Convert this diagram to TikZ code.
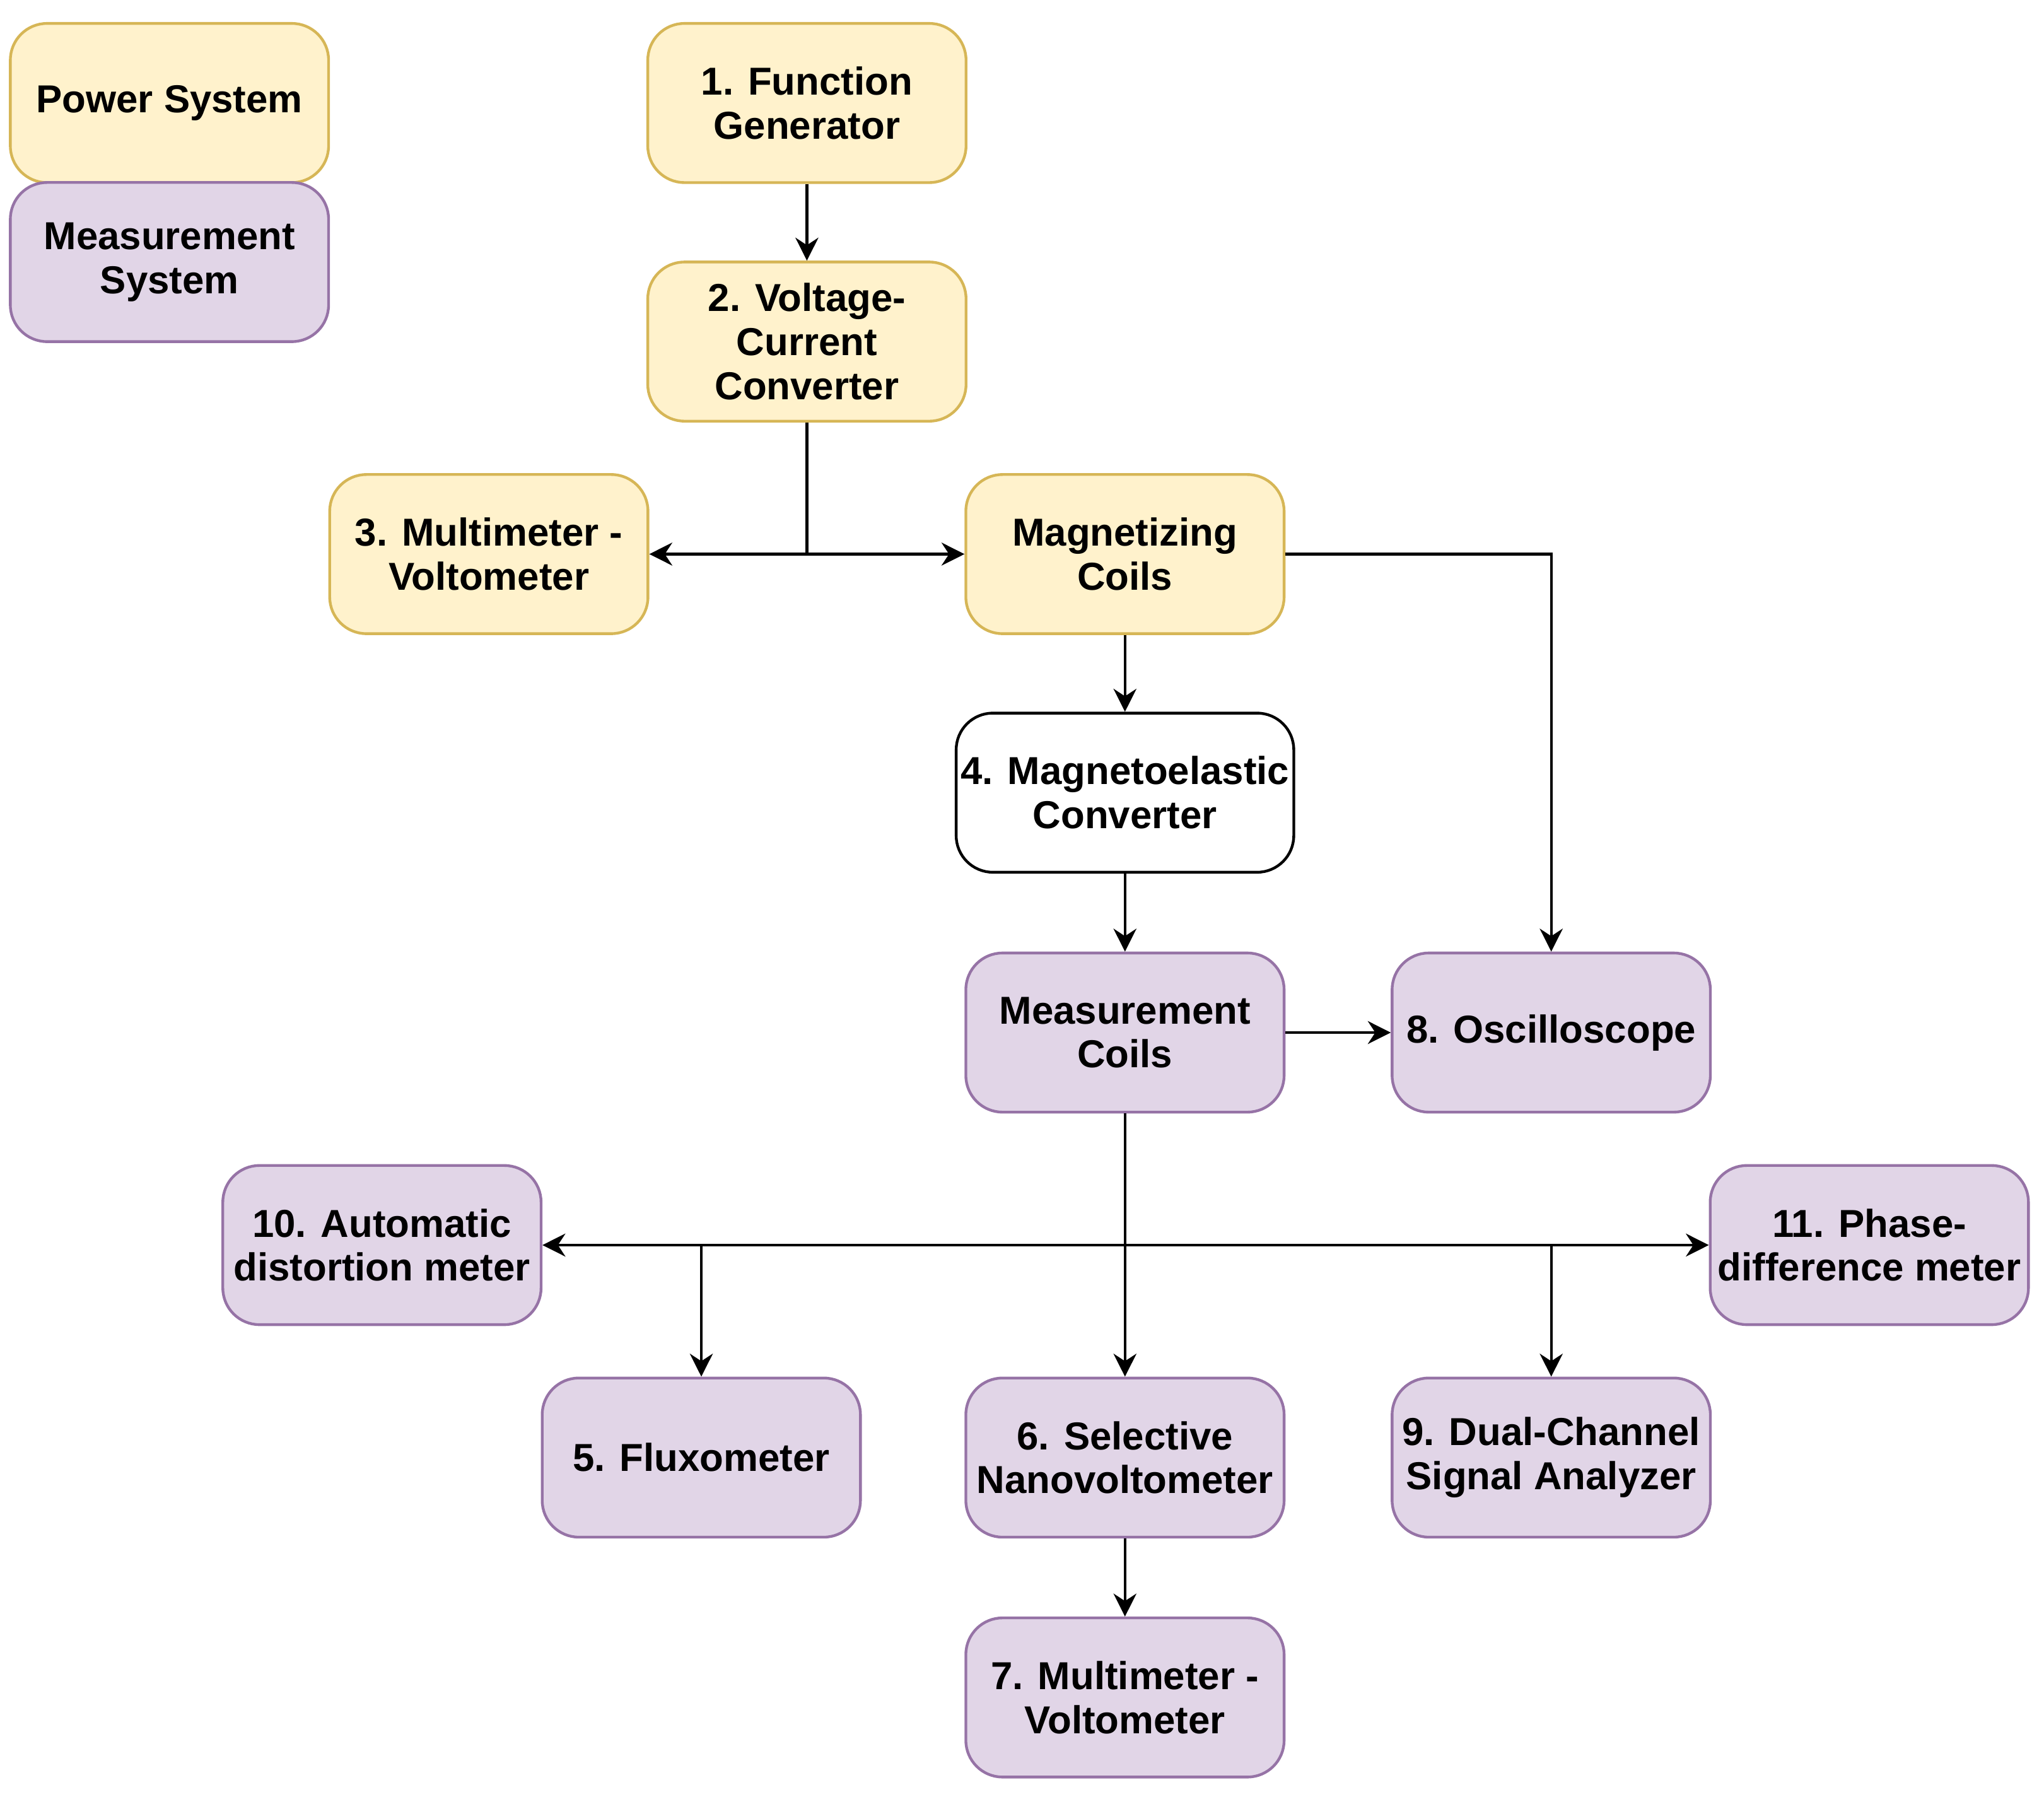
\documentclass[tikz,border=0pt]{standalone}
\usepackage{fontspec}
\setmainfont{Liberation Sans}
\usetikzlibrary{arrows.meta}
\definecolor{powfill}{HTML}{FFF2CC}
\definecolor{powline}{HTML}{D6B656}
\definecolor{mesfill}{HTML}{E1D5E7}
\definecolor{mesline}{HTML}{9673A6}
\begin{document}
\begin{tikzpicture}[x=0.01cm,y=-0.01cm,
  box/.style={draw,rounded corners=8pt,minimum width=2.44cm,minimum height=1.22cm,
    align=center,font=\fontsize{8.5}{9.6}\selectfont\bfseries,line width=0.6pt,inner sep=1pt},
  pow/.style={box,fill=powfill,draw=powline},
  mes/.style={box,fill=mesfill,draw=mesline},
  arr/.style={-{Stealth[length=5pt,width=5pt]},line width=0.6pt}]
\useasboundingbox (0,0) rectangle (1568,1378);

\node[pow] (ps) at (130,79) {Power System};
\node[mes] (ms) at (130,201) {Measurement\\System};

\node[pow] (fg) at (619,79) {1. Function\\Generator};
\node[pow] (vcc) at (619,262) {2. Voltage-\\Current\\Converter};
\node[pow] (mm3) at (375,425) {3. Multimeter -\\Voltometer};
\node[pow] (mag) at (863,425) {Magnetizing\\Coils};
\node[box] (mel) at (863,608) {4. Magnetoelastic\\Converter};
\node[mes] (mc) at (863,792) {Measurement\\Coils};
\node[mes] (osc) at (1190,792) {8. Oscilloscope};
\node[mes] (dist) at (293,955) {10. Automatic\\distortion meter};
\node[mes] (phase) at (1434,955) {11. Phase-\\difference meter};
\node[mes] (flux) at (538,1118) {5. Fluxometer};
\node[mes] (snv) at (863,1118) {6. Selective\\Nanovoltometer};
\node[mes] (dual) at (1190,1118) {9. Dual-Channel\\Signal Analyzer};
\node[mes] (mm7) at (863,1302) {7. Multimeter -\\Voltometer};

\coordinate (j1) at (619,425);
\coordinate (j2) at (863,955);
\coordinate (jf) at (538,955);
\coordinate (jd) at (1190,955);

\draw[arr] (fg) -- (vcc);
\draw[line width=0.6pt] (vcc) -- (j1);
\draw[arr] (j1) -- (mm3);
\draw[arr] (j1) -- (mag);
\draw[arr] (mag.east) -| (osc.north);
\draw[arr] (mag) -- (mel);
\draw[arr] (mel) -- (mc);
\draw[arr] (mc) -- (osc);
\draw[arr] (mc) -- (snv);
\draw[arr] (j2) -- (dist);
\draw[arr] (j2) -- (phase);
\draw[arr] (jf) -- (flux);
\draw[arr] (jd) -- (dual);
\draw[arr] (snv) -- (mm7);
\end{tikzpicture}
\end{document}
